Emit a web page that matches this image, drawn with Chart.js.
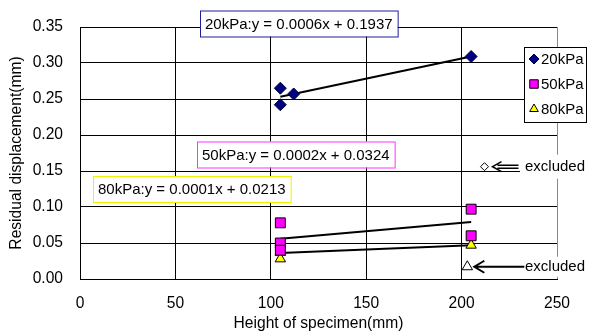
<!DOCTYPE html>
<html>
<head>
<meta charset="utf-8">
<script src="https://cdn.jsdelivr.net/npm/chart.js@4"></script>
<style>
html,body{margin:0;padding:0;background:#fff}
</style>
</head>
<body>
<canvas id="chart" width="605" height="333"></canvas>
<script>
// measured points (height of specimen, residual displacement)
const h20 = [105, 105, 112, 205]
const d20 = [0.265, 0.242, 0.257, 0.309]
const h50 = [105, 105, 105, 205, 205]
const d50 = [0.078, 0.050, 0.040, 0.097, 0.060]
const h80 = [105, 105, 205]
const d80 = [0.037, 0.028, 0.047]

// points left out of the fit
const hExcl20 = [212]
const dExcl20 = [0.156]
const hExcl80 = [203]
const dExcl80 = [0.017]

// fitted lines, end points
const fitX = [105, 205]
const fit20 = [0.253, 0.309]
const fit50 = [0.056, 0.079]
const fit80 = [0.036, 0.047]

const seriesNames = ["20kPa", "50kPa", "80kPa"]
const equations = [
"20kPa:y = 0.0006x + 0.1937",
"50kPa:y = 0.0002x + 0.0324",
"80kPa:y = 0.0001x + 0.0213"
]
const xTicks = [0, 50, 100, 150, 200, 250]
const yTicks = [0, 0.05, 0.10, 0.15, 0.20, 0.25, 0.30, 0.35]
const xTitle = "Height of specimen(mm)"
const yTitle = "Residual displacement(mm)"
const excludedText = "excluded"

const FONT = "15px 'Liberation Sans', Arial, sans-serif"
const axisFont = {family:"'Liberation Sans', Arial", size:15.6}

function pts(xs, ys){
return xs.map((x,i)=>({x:x, y:ys[i]}))
}

const styles = [
{pointStyle:"rectRot", radius:6, bg:"#000080", border:"#000040"},
{pointStyle:"rect", radius:7, bg:"#ff00ff", border:"#000000"},
{pointStyle:"triangle", radius:6, bg:"#ffff00", border:"#000000"}
]

function markerSet(label, xs, ys, st){
return {
type:"scatter",
label:label,
data:pts(xs, ys),
pointStyle:st.pointStyle,
pointRadius:st.radius,
pointHoverRadius:st.radius,
backgroundColor:st.bg,
borderColor:st.border,
borderWidth:1,
order:1
}
}

function fitSet(ys){
return {
type:"line",
data:pts(fitX, ys),
borderColor:"#000",
borderWidth:2,
pointRadius:0,
fill:false,
order:2
}
}

// extra drawing: equation boxes, legend, "excluded" arrows
const extras = {
id:"extras",
afterDraw(chart){
const ctx = chart.ctx
const xs = chart.scales.x
const ys = chart.scales.y
ctx.save()
ctx.font = FONT
ctx.textBaseline = "middle"
ctx.textAlign = "left"

// equation boxes
const boxes = [
{left:200, cy:23.5, color:"#1f1f99"},
{left:197, cy:154.5, color:"#ff33ff"},
{left:93, cy:189, color:"#f0f000"}
]
equations.forEach((txt,i)=>{
const b = boxes[i]
const w = ctx.measureText(txt).width + 10
ctx.fillStyle = "#fff"
ctx.fillRect(b.left, b.cy-13, w, 26)
ctx.strokeStyle = b.color
ctx.lineWidth = 1
ctx.strokeRect(b.left+0.5, b.cy-12.5, w, 26)
ctx.fillStyle = "#000"
ctx.fillText(txt, b.left+5, b.cy+1)
})

// legend
const lx = 524, ly = 47, lw = 62, lh = 75
ctx.fillStyle = "#fff"
ctx.fillRect(lx, ly, lw, lh)
ctx.strokeStyle = "#000"
ctx.lineWidth = 1
ctx.strokeRect(lx+0.5, ly+0.5, lw, lh)
seriesNames.forEach((name,i)=>{
const st = styles[i]
const y = ly + 12 + i*25
ctx.fillStyle = st.bg
ctx.strokeStyle = st.border
ctx.lineWidth = 1
Chart.helpers.drawPoint(ctx, {pointStyle:st.pointStyle, radius:st.radius-1, rotation:0, borderWidth:1}, lx+10, y)
ctx.fillStyle = "#000"
ctx.fillText(name, lx+17, y+1)
})

// excluded labels with arrows
const e1x = xs.getPixelForValue(hExcl20[0])
const e1y = ys.getPixelForValue(dExcl20[0])
const e2x = xs.getPixelForValue(hExcl80[0])
const e2y = ys.getPixelForValue(dExcl80[0])

ctx.fillStyle = "#fff"
ctx.fillRect(520, e1y-12, 80, 24)
ctx.fillRect(520, e2y-10, 80, 20)

ctx.strokeStyle = "#000"
ctx.lineWidth = 1.5
// double shaft arrow
let tip = e1x + 8
ctx.beginPath()
ctx.moveTo(tip+5, e1y-1.5); ctx.lineTo(tip+26, e1y-1.5)
ctx.moveTo(tip+5, e1y+1.5); ctx.lineTo(tip+26, e1y+1.5)
ctx.moveTo(tip+9, e1y-5); ctx.lineTo(tip, e1y); ctx.lineTo(tip+9, e1y+5)
ctx.stroke()
// single shaft arrow
tip = e2x + 7
ctx.lineWidth = 2
ctx.beginPath()
ctx.moveTo(tip, e2y); ctx.lineTo(tip+50, e2y)
ctx.moveTo(tip+10, e2y-6); ctx.lineTo(tip, e2y); ctx.lineTo(tip+10, e2y+6)
ctx.stroke()

ctx.fillStyle = "#000"
ctx.fillText(excludedText, 525, e1y)
ctx.fillText(excludedText, 525, e2y)
ctx.restore()
}
}

new Chart(document.getElementById("chart"), {
data:{
datasets:[
markerSet(seriesNames[0], h20, d20, styles[0]),
markerSet(seriesNames[1], h50, d50, styles[1]),
markerSet(seriesNames[2], h80, d80, styles[2]),
markerSet("", hExcl20, dExcl20, {pointStyle:"rectRot", radius:4, bg:"#fff", border:"#000"}),
markerSet("", hExcl80, dExcl80, {pointStyle:"triangle", radius:6, bg:"#fff", border:"#000"}),
fitSet(fit20),
fitSet(fit50),
fitSet(fit80)
]
},
options:{
responsive:false,
animation:false,
devicePixelRatio:1,
layout:{padding:{top:27, right:48, left:0, bottom:0}},
plugins:{legend:{display:false}, tooltip:{enabled:false}},
scales:{
x:{
type:"linear",
min:0, max:250,
afterBuildTicks(s){ s.ticks = xTicks.map(v=>({value:v})) },
afterFit(s){ s.height = 54 },
grid:{
color:ctx=>ctx.tick && ctx.tick.value===250 ? "#888" : "#000",
lineWidth:1,
drawTicks:false
},
border:{color:"#000", width:1},
ticks:{padding:15, color:"#000", font:axisFont, callback:v=>v},
title:{display:true, text:xTitle, color:"#000", font:axisFont, padding:{top:0, bottom:0}}
},
y:{
type:"linear",
min:0, max:0.35,
afterBuildTicks(s){ s.ticks = yTicks.map(v=>({value:v})) },
afterFit(s){ s.width = 80 },
grid:{color:"#000", lineWidth:1, drawTicks:false},
border:{color:"#000", width:1},
ticks:{padding:17, color:"#000", font:axisFont, callback:v=>v.toFixed(2)},
title:{display:true, text:yTitle, color:"#000", font:axisFont, padding:{top:7, bottom:0}}
}
}
},
plugins:[extras]
})
</script>
</body>
</html>
